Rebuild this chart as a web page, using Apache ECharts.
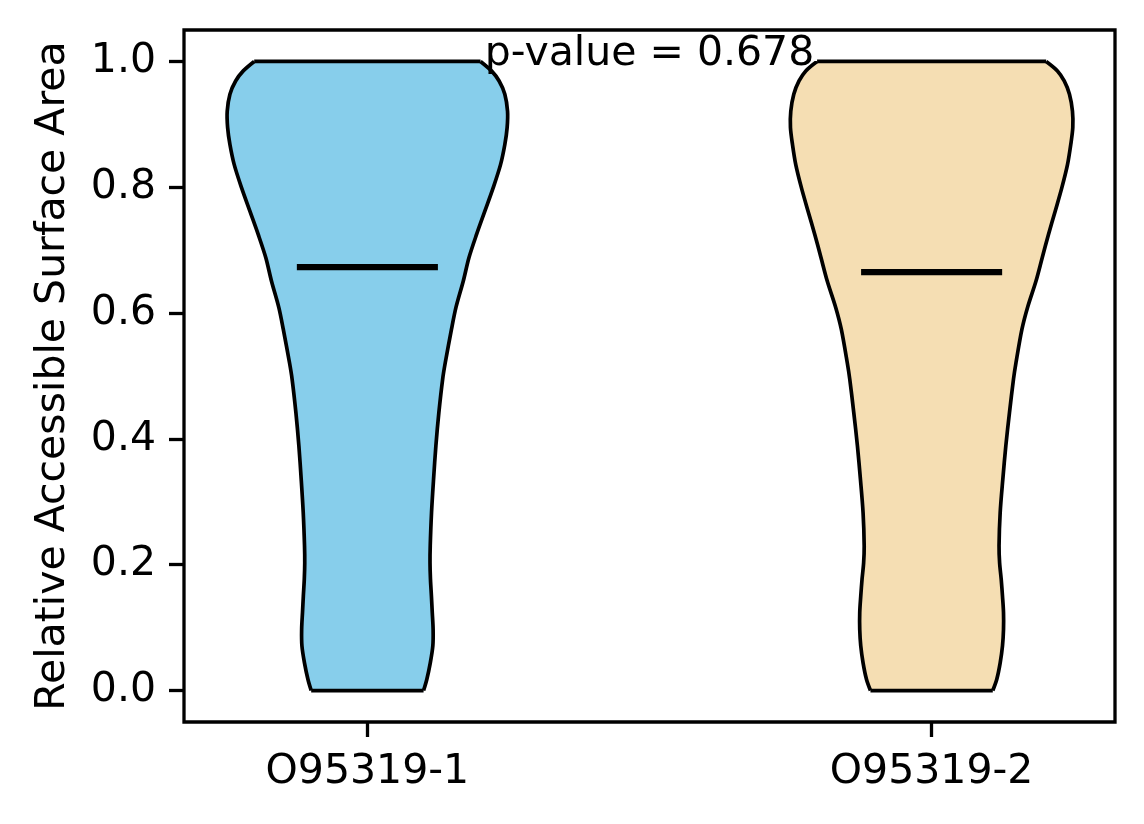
<!DOCTYPE html>
<html>
<head>
    <meta charset="utf-8">
    <title>violin</title>
    <script src="https://cdn.jsdelivr.net/npm/echarts@6/dist/echarts.min.js"></script>
    <style>
        html, body { margin: 0; padding: 0; background: #fff; }
        #main { width: 1144px; height: 824px; }
    </style>
</head>
<body>
<div id="main"></div>
<script type="text/javascript">
    // categories / positions
    var categories = ['O95319-1', 'O95319-2'];
    var positions = [1, 2];
    var yTicks = [0, 0.2, 0.4, 0.6, 0.8, 1.0];

    // violin outline: y value -> half width (x units)
    var kdeY = [0, 0.018, 0.044, 0.071, 0.097, 0.124, 0.150, 0.177, 0.203, 0.230,
        0.283, 0.336, 0.389, 0.442, 0.495, 0.521, 0.574, 0.609, 0.651, 0.688,
        0.725, 0.762, 0.799, 0.836, 0.868, 0.895, 0.921, 0.948, 0.969, 0.985, 1.0];
    var halfWidth1 = [0.0996, 0.1054, 0.1115, 0.1160, 0.1165, 0.1150, 0.1135, 0.1118, 0.1110, 0.1114,
        0.1137, 0.1173, 0.1214, 0.1267, 0.1334, 0.1380, 0.1490, 0.1570, 0.1700, 0.1800,
        0.1935, 0.2082, 0.2229, 0.2360, 0.2436, 0.2477, 0.2484, 0.2436, 0.2335, 0.2200, 0.2006];
    var halfWidth2 = [0.1084, 0.1155, 0.1215, 0.1256, 0.1274, 0.1274, 0.1256, 0.1233, 0.1205, 0.1195,
        0.1215, 0.1262, 0.1315, 0.1380, 0.1451, 0.1495, 0.1600, 0.1700, 0.1850, 0.1960,
        0.2071, 0.2190, 0.2307, 0.2408, 0.2466, 0.2502, 0.2496, 0.2443, 0.2350, 0.2230, 0.2030];
    var medians = [0.673, 0.665];
    var colors = ['#87CEEB', '#F5DEB3'];

    // annotation
    var pValueText = 'p-value = 0.678';
    var pValuePos = [1.5, 1.0];

    var FONT = 'DejaVu Sans';
    var widths = [halfWidth1, halfWidth2];

    var myChart = echarts.init(document.getElementById('main'));

    function renderViolin(params, api) {
        var i = params.dataIndex;
        var pos = api.value(0);
        var w = widths[i];
        var left = [], right = [];
        for (var k = 0; k < kdeY.length; k++) {
            left.push(api.coord([pos - w[k], kdeY[k]]));
            right.push(api.coord([pos + w[k], kdeY[k]]));
        }
        var n = kdeY.length - 1;
        var edge = { stroke: '#000', lineWidth: 3.7, fill: null, lineJoin: 'round' };
        var m1 = api.coord([pos - 0.125, medians[i]]);
        var m2 = api.coord([pos + 0.125, medians[i]]);
        return {
            type: 'group',
            children: [
                {
                    type: 'polygon',
                    shape: { points: left.concat(right.slice().reverse()) },
                    style: { fill: colors[i], stroke: null }
                },
                { type: 'polyline', shape: { points: left, smooth: 0.3 }, style: edge },
                { type: 'polyline', shape: { points: right, smooth: 0.3 }, style: edge },
                {
                    type: 'line',
                    shape: { x1: left[0][0], y1: left[0][1], x2: right[0][0], y2: right[0][1] },
                    style: edge
                },
                {
                    type: 'line',
                    shape: { x1: left[n][0], y1: left[n][1], x2: right[n][0], y2: right[n][1] },
                    style: edge
                },
                {
                    type: 'line',
                    shape: { x1: m1[0], y1: m1[1], x2: m2[0], y2: m2[1] },
                    style: { stroke: '#000', lineWidth: 6.2 }
                }
            ]
        };
    }

    function renderText(params, api) {
        var p = api.coord([api.value(0), api.value(1)]);
        return {
            type: 'text',
            x: p[0],
            y: p[1] - 7,
            style: {
                text: pValueText,
                fill: '#000',
                font: '41px "' + FONT + '"',
                align: 'center',
                verticalAlign: 'middle'
            }
        };
    }

    var option = {
        animation: false,
        backgroundColor: '#fff',
        grid: {
            left: 184, right: 29, top: 30, bottom: 102,
            show: true, borderColor: '#000', borderWidth: 3.3, backgroundColor: 'transparent'
        },
        xAxis: {
            type: 'value',
            min: 0.675,
            max: 2.325,
            axisLine: { show: false, onZero: false },
            splitLine: { show: false },
            axisTick: {
                show: true, customValues: positions, length: 15,
                lineStyle: { color: '#000', width: 3.3 }
            },
            axisLabel: {
                customValues: positions,
                formatter: function (v) {
                    var idx = positions.indexOf(Math.round(v));
                    return idx >= 0 ? categories[idx] : '';
                },
                color: '#000', fontSize: 41, fontFamily: FONT, margin: 30
            }
        },
        yAxis: {
            type: 'value',
            min: -0.05,
            max: 1.05,
            name: 'Relative Accessible Surface Area',
            nameLocation: 'middle',
            nameGap: 110,
            nameTextStyle: { color: '#000', fontSize: 41, fontFamily: FONT },
            axisLine: { show: false, onZero: false },
            splitLine: { show: false },
            axisTick: {
                show: true, customValues: yTicks, length: 15,
                lineStyle: { color: '#000', width: 3.3 }
            },
            axisLabel: {
                customValues: yTicks,
                formatter: function (v) { return v.toFixed(1); },
                color: '#000', fontSize: 41, fontFamily: FONT, margin: 28
            }
        },
        series: [
            {
                type: 'custom',
                renderItem: renderViolin,
                data: positions.map(function (p) { return [p]; }),
                encode: { x: 0 },
                silent: true
            },
            {
                type: 'custom',
                renderItem: renderText,
                data: [pValuePos],
                encode: { x: 0, y: 1 },
                silent: true,
                z: 5
            }
        ]
    };
    myChart.setOption(option);
</script>
</body>
</html>
